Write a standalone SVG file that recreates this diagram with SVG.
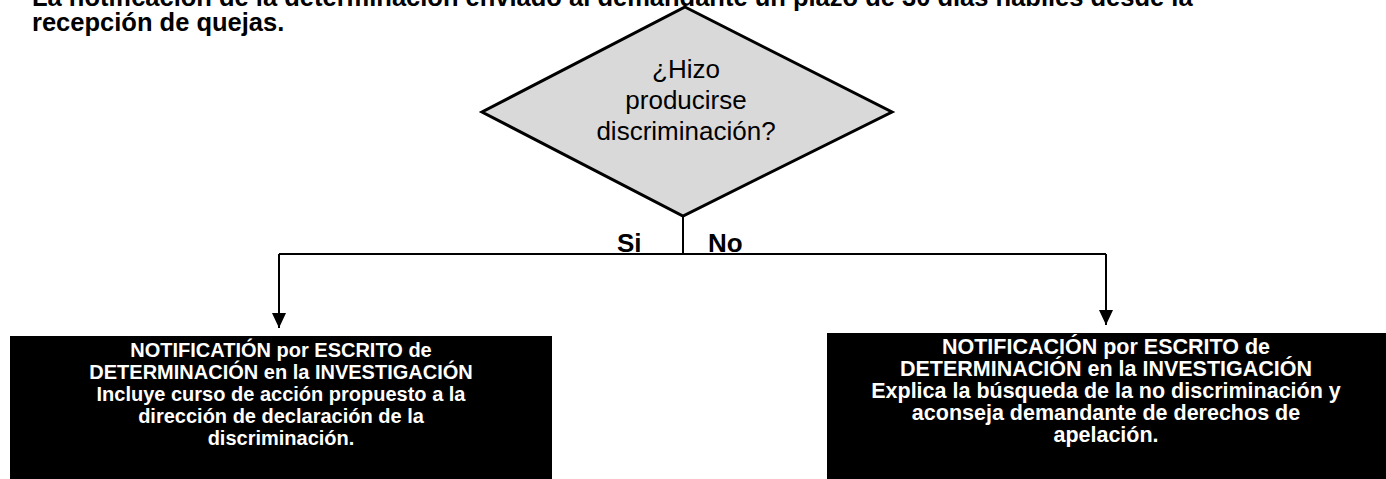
<svg xmlns="http://www.w3.org/2000/svg" width="1386" height="479" viewBox="0 0 1386 479">
<style>
.hdr{font-family:"Liberation Sans",Arial,sans-serif;font-weight:bold;font-size:25.5px;fill:#000}
.dtxt{font-family:"Liberation Sans",Arial,sans-serif;font-size:26px;fill:#000;text-anchor:middle}
.lbl{font-family:"Liberation Sans",Arial,sans-serif;font-weight:bold;font-size:26px;fill:#000}
.btxt{font-family:"Liberation Sans",Arial,sans-serif;font-weight:bold;font-size:20px;fill:#fff;text-anchor:middle}
.btxt2{font-family:"Liberation Sans",Arial,sans-serif;font-weight:bold;font-size:21.5px;fill:#fff;text-anchor:middle}
.box{fill:#000}
.con{fill:none;stroke:#000;stroke-width:2}
</style>
<defs>
<marker id="arr" viewBox="0 0 15 14" refX="15" refY="7" markerWidth="15" markerHeight="14" markerUnits="userSpaceOnUse" orient="auto">
<path d="M0,0 L15,7 L0,14 Z" fill="#000"/>
</marker>
</defs>
<rect width="1386" height="479" fill="#fff"/>
<g id="header">
<text class="hdr" x="32" y="6">La notificación de la determinación enviado al demandante un plazo de 30 días hábiles desde la</text>
<text class="hdr" x="32" y="31">recepción de quejas.</text>
</g>
<g id="decision">
<polygon points="685,7 892,112 683,216 482,112" fill="#d9d9d9" stroke="#000" stroke-width="3" stroke-linejoin="miter"/>
<text class="dtxt" x="686" y="78">¿Hizo</text>
<text class="dtxt" x="686" y="109">producirse</text>
<text class="dtxt" x="686" y="140">discriminación?</text>
</g>
<g id="connectors">
<path class="con" d="M683,216 V254"/>
<path class="con" d="M279,254 H1106"/>
<path class="con" d="M279,254 V328" marker-end="url(#arr)"/>
<path class="con" d="M1106,254 V325" marker-end="url(#arr)"/>
<text class="lbl" x="617" y="252">Si</text>
<text class="lbl" x="708" y="252">No</text>
</g>
<g id="box-si">
<rect class="box" x="10" y="336" width="542" height="150"/>
<text class="btxt" x="281" y="357">NOTIFICATIÓN por ESCRITO de</text>
<text class="btxt" x="281" y="379">DETERMINACIÓN en la INVESTIGACIÓN</text>
<text class="btxt" x="281" y="401">Incluye curso de acción propuesto a la</text>
<text class="btxt" x="281" y="423">dirección de declaración de la</text>
<text class="btxt" x="281" y="445">discriminación.</text>
</g>
<g id="box-no">
<rect class="box" x="827" y="333" width="559" height="150"/>
<text class="btxt2" x="1106" y="354">NOTIFICACIÓN por ESCRITO de</text>
<text class="btxt2" x="1106" y="376">DETERMINACIÓN en la INVESTIGACIÓN</text>
<text class="btxt2" x="1106" y="398">Explica la búsqueda de la no discriminación y</text>
<text class="btxt2" x="1106" y="420">aconseja demandante de derechos de</text>
<text class="btxt2" x="1106" y="442">apelación.</text>
</g>
</svg>
